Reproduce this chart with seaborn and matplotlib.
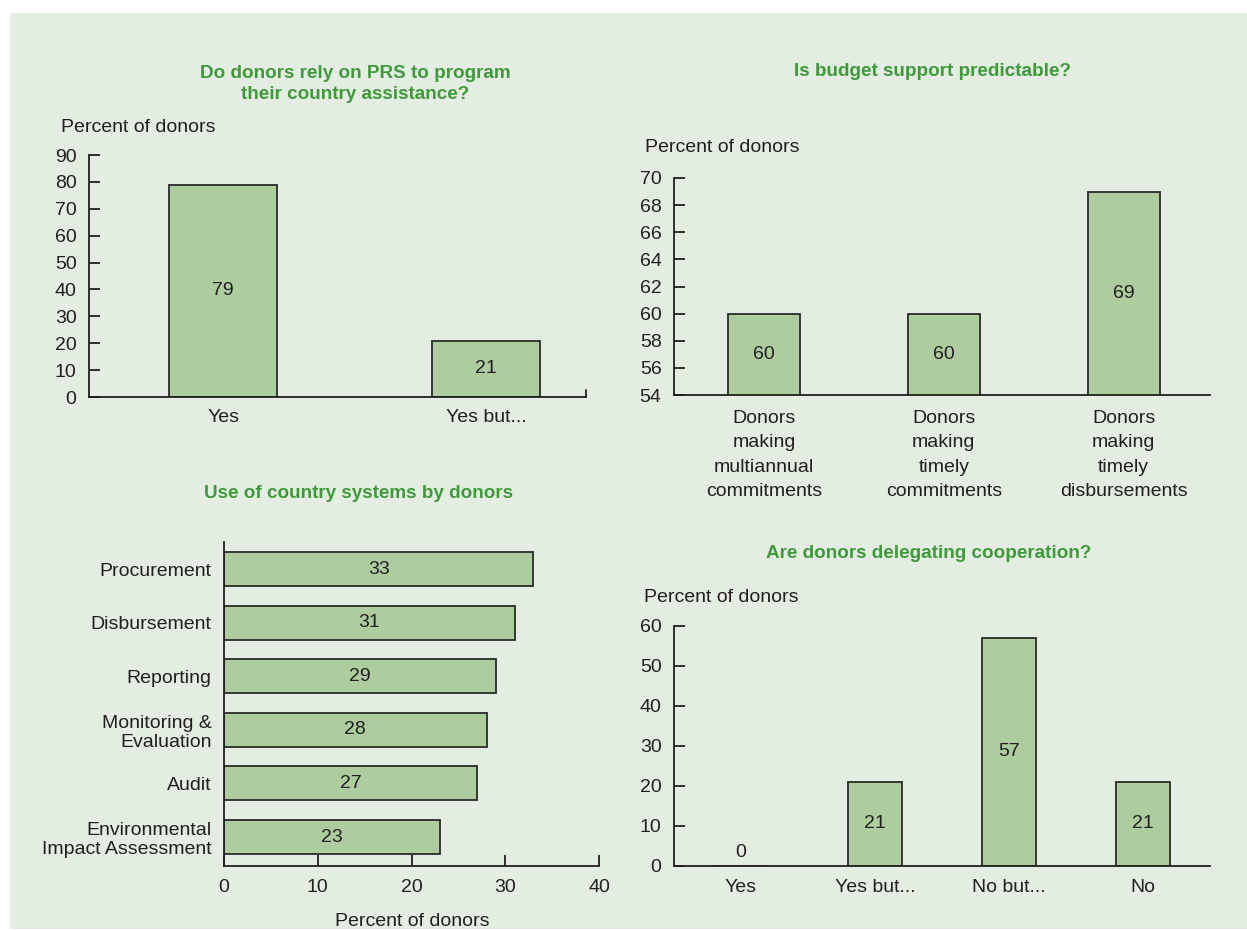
import matplotlib
matplotlib.use("Agg")
import matplotlib.pyplot as plt
from matplotlib import font_manager
from matplotlib.patches import Rectangle
import seaborn as sns
import pandas as pd

# ---- data -------------------------------------------------------------
prs_categories = ["Yes", "Yes but..."]
prs_values = [79, 21]

budget_categories = [
    "Donors\nmaking\nmultiannual\ncommitments",
    "Donors\nmaking\ntimely\ncommitments",
    "Donors\nmaking\ntimely\ndisbursements",
]
budget_values = [60, 60, 69]

systems_categories = [
    "Procurement",
    "Disbursement",
    "Reporting",
    "Monitoring &\nEvaluation",
    "Audit",
    "Environmental\nImpact Assessment",
]
systems_values = [33, 31, 29, 28, 27, 23]

delegation_categories = ["Yes", "Yes but...", "No but...", "No"]
delegation_values = [0, 21, 57, 21]

# ---- style ------------------------------------------------------------
W, H = 1247, 931
PANEL = "#e3ede1"
BAR = "#aecd9f"
EDGE = "#2a2a2a"
INK = "#231f20"
TITLE = "#3f9a3a"

sns.set_theme(style="white")
available = {f.name for f in font_manager.fontManager.ttflist}
family = "Liberation Sans Narrow" if "Liberation Sans Narrow" in available else "Liberation Sans"
plt.rcParams["font.family"] = [family, "DejaVu Sans"]
plt.rcParams.update({
    "axes.edgecolor": INK,
    "axes.linewidth": 1.3,
    "xtick.color": INK,
    "ytick.color": INK,
    "text.color": INK,
    "axes.labelcolor": INK,
})

FS = 14
TFS = 13.6

fig = plt.figure(figsize=(W / 100, H / 100), dpi=100, facecolor="white")
fig.patches.append(Rectangle((10 / W, (H - 929) / H), 1 - 10 / W, (929 - 13) / H,
                             transform=fig.transFigure, facecolor=PANEL,
                             edgecolor="none", zorder=-10))


def px_axes(x0, x1, ytop, ybot):
    return fig.add_axes([x0 / W, (H - ybot) / H, (x1 - x0) / W, (ybot - ytop) / H])


def fx(x):
    return x / W


def fy(y):
    return (H - y) / H


def style_axes(ax, vertical=True, xpad=9):
    ax.set_facecolor("none")
    for s in ("top", "right"):
        ax.spines[s].set_visible(False)
    ax.tick_params(axis="both", direction="in", length=8, width=1.3,
                   labelsize=FS, colors=INK, pad=9, left=True, bottom=True)
    if vertical:
        ax.tick_params(axis="x", length=0, pad=xpad)
    else:
        ax.tick_params(axis="y", length=0, pad=9)
    ax.set_xlabel("")
    ax.set_ylabel("")


def bar_kw():
    return dict(color=BAR, edgecolor=EDGE, linewidth=1.3, saturation=1)


# ---- top left: reliance on PRS ---------------------------------------
ax1 = px_axes(89, 586, 155, 397)
df1 = pd.DataFrame({"cat": prs_categories, "val": prs_values})
sns.barplot(data=df1, x="cat", y="val", width=0.41, ax=ax1, **bar_kw())
ax1.set_ylim(0, 90)
ax1.set_yticks(range(0, 91, 10))
ax1.set_xlim(-0.51, 1.38)
style_axes(ax1)
ax1.plot([1.38, 1.38], [0, 2.6], color=INK, lw=1.3, clip_on=False)
for i, v in enumerate(prs_values):
    ax1.text(i, v / 2, str(v), ha="center", va="center", fontsize=FS)
fig.text(fx(355), fy(84), "Do donors rely on PRS to program\ntheir country assistance?",
         ha="center", va="center", fontsize=TFS, fontweight="bold", color=TITLE,
         linespacing=1.35)
fig.text(fx(61), fy(128), "Percent of donors", ha="left", va="center", fontsize=FS)

# ---- top right: budget support predictability -------------------------
ax2 = px_axes(674, 1210, 178, 395)
df2 = pd.DataFrame({"cat": budget_categories, "val": budget_values})
sns.barplot(data=df2, x="cat", y="val", width=0.4, ax=ax2, **bar_kw())
ax2.set_ylim(54, 70)
ax2.set_yticks(range(54, 71, 2))
ax2.set_xlim(-0.5, 2.48)
style_axes(ax2, xpad=10.5)
for lab in ax2.get_xticklabels():
    lab.set_linespacing(1.58)
for i, v in enumerate(budget_values):
    ax2.text(i, (54 + v) / 2, str(v), ha="center", va="center", fontsize=FS)
fig.text(fx(933), fy(71), "Is budget support predictable?", ha="center", va="center",
         fontsize=TFS, fontweight="bold", color=TITLE)
fig.text(fx(645), fy(147), "Percent of donors", ha="left", va="center", fontsize=FS)

# ---- bottom left: use of country systems ------------------------------
ax3 = px_axes(224, 599, 542, 866)
df3 = pd.DataFrame({"cat": systems_categories, "val": systems_values})
sns.barplot(data=df3, y="cat", x="val", orient="h", width=0.635, ax=ax3, **bar_kw())
ax3.set_xlim(0, 40)
ax3.set_xticks(range(0, 41, 10))
ax3.set_ylim(5.54, -0.505)
style_axes(ax3, vertical=False)
for lab in ax3.get_yticklabels():
    lab.set_linespacing(1.15)
for i, v in enumerate(systems_values):
    ax3.text(v / 2, i, str(v), ha="center", va="center", fontsize=FS)
fig.text(fx(359), fy(494), "Use of country systems by donors", ha="center", va="center",
         fontsize=TFS, fontweight="bold", color=TITLE)
fig.text(fx(412), fy(921), "Percent of donors", ha="center", va="center", fontsize=FS)

# ---- bottom right: delegated cooperation ------------------------------
ax4 = px_axes(674, 1210, 626, 866)
df4 = pd.DataFrame({"cat": delegation_categories, "val": delegation_values})
sns.barplot(data=df4, x="cat", y="val", width=0.4, ax=ax4, **bar_kw())
ax4.set_ylim(0, 60)
ax4.set_yticks(range(0, 61, 10))
ax4.set_xlim(-0.5, 3.5)
style_axes(ax4)
for i, v in enumerate(delegation_values):
    if v == 0:
        ax4.text(i, 1.3, str(v), ha="center", va="bottom", fontsize=FS)
    else:
        ax4.text(i, v / 2, str(v), ha="center", va="center", fontsize=FS)
fig.text(fx(929), fy(553), "Are donors delegating cooperation?", ha="center", va="center",
         fontsize=TFS, fontweight="bold", color=TITLE)
fig.text(fx(644), fy(597), "Percent of donors", ha="left", va="center", fontsize=FS)

fig.savefig("out.png", dpi=100, facecolor="white")
